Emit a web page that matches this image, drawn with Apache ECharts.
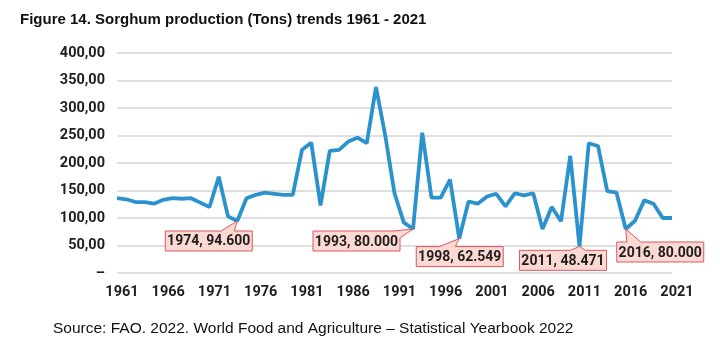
<!DOCTYPE html>
<html>
<head>
<meta charset="utf-8">
<script src="https://cdn.jsdelivr.net/npm/echarts@6/dist/echarts.min.js"></script>
<style>
  html, body { margin: 0; padding: 0; background: #fff; }
  #main { width: 720px; height: 350px; }
</style>
</head>
<body>
<div id="main"></div>
<script>
// years on the x axis
var years = [];
for (var y = 1961; y <= 2021; y++) years.push(String(y));

// production
var production = [
  136, 134, 129, 129, 126, 133, 136, 135, 136, 128,   // 1961-1970
  120, 175, 103, 94.6, 136, 142, 146, 144, 142, 142,  // 1971-1980
  224, 237, 123, 222, 224, 239, 246, 236, 338, 250,   // 1981-1990
  145, 92, 80, 255, 137, 137, 170, 62.549, 130, 126,  // 1991-2000
  139, 144, 121, 145, 141, 145, 80, 120, 94, 213,     // 2001-2010
  48.471, 236, 231, 149, 146, 80, 95, 132, 126, 100,  // 2011-2020
  100                                                 // 2021
];

// callouts
var noteYears = ['1974', '1993', '1998', '2011', '2016'];
var noteValues = [94.6, 80, 62.549, 48.471, 80];
var noteTexts = ['1974, 94.600', '1993, 80.000', '1998, 62.549', '2011, 48.471', '2016, 80.000'];

// box offset from the point and where the pointer leaves the box: [dx, dy, a, bx, by]
var noteLayout = [
  [-72, 10, 56, 69, 0],
  [-100, 2, 80, 87, 7],
  [-43, 8, 23, 39, 0],
  [-60, 4, 51, 66, 0],
  [-9, 13, 10, 24, 0]
];

var axisFont = 'Roboto';
var boxW = 87, boxH = 20;

var chart = echarts.init(document.getElementById('main'));

function renderNote(params, api) {
  var p = api.coord([api.value(0), api.value(1)]);
  var l = noteLayout[params.dataIndex];
  var x0 = p[0] + l[0], y0 = p[1] + l[1];
  var pts = [[x0, y0], [x0 + l[2], y0], [p[0], p[1]], [x0 + l[3], y0 + l[4]]];
  if (l[3] < boxW) pts.push([x0 + boxW, y0]);
  pts.push([x0 + boxW, y0 + boxH], [x0, y0 + boxH]);
  return {
    type: 'group',
    children: [{
      type: 'polygon',
      shape: { points: pts },
      style: { fill: '#fcd9d3', stroke: '#de5761', lineWidth: 1 }
    }, {
      type: 'text',
      style: {
        text: noteTexts[params.dataIndex],
        x: x0 + boxW / 2,
        y: y0 + boxH / 2 + 1,
        align: 'center',
        verticalAlign: 'middle',
        font: 'bold 14px ' + axisFont,
        fill: '#1e1e1e'
      }
    }]
  };
}

var option = {
  animation: false,
  title: [{
    text: 'Figure 14. Sorghum production (Tons) trends 1961 - 2021',
    left: 15,
    top: 7,
    textStyle: { fontFamily: 'Liberation Sans', fontSize: 15, fontWeight: 'bold', color: '#111' }
  }, {
    text: 'Source: FAO. 2022. World Food and Agriculture \u2013 Statistical Yearbook 2022',
    left: 48,
    top: 316,
    textStyle: { fontFamily: 'Liberation Sans', fontSize: 15.5, fontWeight: 'normal', color: '#111' }
  }],
  grid: {
    left: 117,
    right: 48,
    top: 53,
    bottom: 77
  },
  xAxis: {
    type: 'category',
    data: years,
    boundaryGap: false,
    axisLine: { show: false },
    axisTick: { show: false },
    axisLabel: {
      interval: 4,
      margin: 12,
      padding: [0, 0, 0, 10],
      fontFamily: axisFont,
      fontSize: 14.5,
      fontWeight: 'bold',
      color: '#1e1e1e'
    }
  },
  yAxis: {
    type: 'value',
    min: 0,
    max: 400,
    interval: 50,
    axisLine: { show: false },
    axisTick: { show: false },
    splitLine: { lineStyle: { color: '#d4d4d4', width: 1.5 } },
    axisLabel: {
      margin: 12,
      fontFamily: axisFont,
      fontSize: 14.5,
      fontWeight: 'bold',
      color: '#1e1e1e',
      formatter: function (v) {
        return v === 0 ? '\u2013' : v.toFixed(2).replace('.', ',');
      }
    }
  },
  series: [{
    name: 'Production',
    type: 'line',
    data: production,
    showSymbol: false,
    symbol: 'none',
    lineStyle: { color: '#2b92cd', width: 3.8 },
    itemStyle: { color: '#2b92cd' },
    z: 2
  }, {
    name: 'Notes',
    type: 'custom',
    renderItem: renderNote,
    data: noteYears.map(function (yr, i) { return [yr, noteValues[i]]; }),
    clip: false,
    silent: true,
    z: 5
  }]
};

chart.setOption(option);
</script>
</body>
</html>
